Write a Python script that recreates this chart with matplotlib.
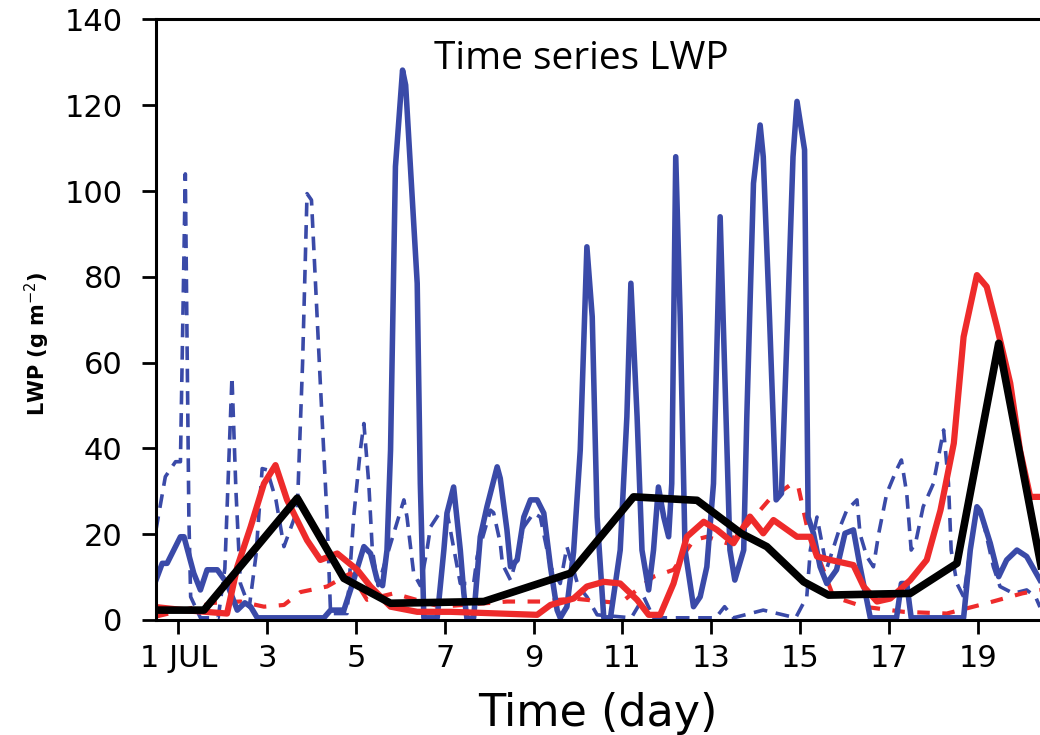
import matplotlib.pyplot as plt

# black solid (coarse)
blk_x = [0.5, 1.58, 3.68, 4.73, 5.78, 7.88, 9.83, 11.25, 12.68, 13.67, 14.25, 15.08, 15.64, 17.48, 18.53, 19.47, 20.6]
blk_y = [2.3, 2.3, 28.4, 9.7, 3.9, 4.3, 10.9, 28.7, 27.9, 20.2, 17.1, 8.9, 5.8, 6.2, 13.2, 64.5, 3]

# red solid
rs_x = [0.5, 1.12, 2.1, 2.33, 2.63, 2.93, 3.19, 3.45, 3.9, 4.2, 4.58, 5.03, 5.33, 5.78, 6.38, 7.13,
        9.08, 9.38, 9.9, 10.2, 10.58, 10.95, 11.33, 11.59, 11.85, 12.15, 12.45, 12.83, 13.13, 13.5,
        13.87, 14.17, 14.4, 14.93, 15.23, 15.38, 15.68, 16.2, 16.43, 16.73, 17.03, 17.48, 17.85,
        18.16, 18.46, 18.68, 18.98, 19.2, 19.43, 19.73, 19.95, 20.18, 20.4]
rs_y = [3, 2.3, 1.5, 12.4, 21.7, 31.8, 36.1, 28, 18.6, 14, 15.5, 11.7, 7.8, 3.1, 1.9, 1.9,
        1.2, 3.5, 5, 7.8, 8.9, 8.5, 4.7, 1.2, 1.2, 8.5, 19.4, 22.9, 21, 17.9,
        24.1, 20.2, 23.3, 19.4, 19.4, 14.8, 14, 12.8, 7.8, 4.3, 5, 9.3, 14,
        25.6, 41.2, 66, 80.4, 77.7, 68.4, 55.2, 39.6, 28.7, 28.7]

# red dashed
rd_x = [0.5, 1.8, 2.4, 2.93, 3.38, 3.75, 4.35, 4.88, 5.25, 5.85, 6.9, 8.41, 9.15, 9.9, 10.95,
        11.7, 12.15, 12.6, 12.9, 13.35, 13.8, 14.3, 14.78, 14.95, 15.15, 15.75, 16.43, 17.33,
        18.3, 19.2, 20.0, 20.4]
rd_y = [0.8, 4, 4.3, 3.1, 3.5, 6.5, 7.8, 10.9, 4.7, 6.2, 3.1, 4.3, 4.3, 5, 3.9,
        10.1, 11.7, 18.6, 19.4, 17.9, 22, 28, 31.5, 31.5, 22, 5.4, 3.1, 1.9,
        1.5, 3.9, 6.2, 7]

# blue dashed
bd_x = [0.5, 0.71, 0.94, 1.05, 1.16, 1.24, 1.28, 1.5, 1.9, 2.05, 2.21, 2.3, 2.4, 2.6, 2.75,
        2.89, 3.0, 3.2, 3.38, 3.68, 3.8, 3.9, 4.0, 4.2, 4.35, 4.43, 4.8, 4.95, 5.1, 5.18,
        5.29, 5.37, 5.5, 5.7, 6.08, 6.15, 6.3, 6.45, 6.6, 6.68, 6.9, 7.05, 7.35, 7.65, 7.73,
        8.03, 8.1, 8.25, 8.3, 8.48, 8.63, 8.78, 9.0, 9.15, 9.38, 9.6, 9.75, 10.0, 10.2, 10.43,
        11.2, 11.48, 11.7, 13.1, 13.3, 13.5, 14.17, 14.9, 15.15, 15.23, 15.38, 15.6, 15.9,
        16.05, 16.28, 16.35, 16.5, 16.65, 16.77, 16.95, 17.17, 17.28, 17.4, 17.5, 17.6, 17.77,
        18.0, 18.23, 18.34, 18.4, 18.53, 18.68, 18.85, 18.98, 19.1, 19.35, 19.5, 19.8, 20.1,
        20.3, 20.4]
bd_y = [21, 33.4, 36.9, 36.9, 104, 24, 5.4, 0.5, 0.5, 12, 56.7, 30, 8.5, 3, 15,
        35.3, 35, 28, 17.1, 25.6, 60, 99.4, 97.9, 55, 24, 1.5, 1.5, 24, 39.6, 45.8,
        31.8, 16.3, 8, 15, 28, 24, 10.9, 8, 16.3, 21.7, 25.2, 25.2, 8.5, 8.5, 14.8,
        25.6, 25, 17.9, 13, 9.3, 14.8, 21.7, 24.9, 24, 12.4, 8.5, 17.1, 8, 5.4, 1.2,
        0.5, 5.4, 0.5, 0.5, 3.1, 0.5, 2.3, 0.5, 5.4, 16.3, 24, 12, 21.7,
        25.6, 28, 20, 14.8, 12.4, 20.2, 29.5, 35, 37.3, 29.5, 16.3, 18, 26.4,
        31.8, 44.3, 31.8, 16.3, 8.5, 5.4, 18, 25.6, 24, 12.4, 7.8, 6.2, 7,
        5.4, 3]

# blue solid
bs_x = [0.5, 0.64, 0.75, 1.05, 1.13, 1.35, 1.5, 1.65, 1.88, 2.1, 2.33, 2.5, 2.63, 2.78, 4.28,
        4.43, 4.73, 4.95, 5.18, 5.33, 5.48, 5.6, 5.7, 5.78, 5.89, 6.05, 6.12, 6.38, 6.45, 6.53,
        6.83, 6.98, 7.05, 7.2, 7.35, 7.43, 7.5, 7.65, 7.8, 7.95, 8.18, 8.25, 8.4, 8.48, 8.63,
        8.78, 8.93, 9.08, 9.23, 9.38, 9.53, 9.6, 9.75, 9.9, 10.05, 10.2, 10.32, 10.43, 10.58,
        10.73, 10.95, 11.1, 11.19, 11.33, 11.44, 11.59, 11.7, 11.81, 11.93, 12.04, 12.11, 12.2,
        12.3, 12.41, 12.6, 12.75, 12.9, 13.05, 13.2, 13.31, 13.42, 13.53, 13.73, 13.8, 13.95,
        14.1, 14.17, 14.31, 14.46, 14.58, 14.72, 14.84, 14.93, 15.1, 15.18, 15.3, 15.45, 15.6,
        15.82, 16.01, 16.2, 16.35, 16.58, 17.17, 17.28, 17.4, 17.5, 18.68, 18.83, 18.98, 19.05,
        19.28, 19.47, 19.65, 19.88, 20.1, 20.4]
bs_y = [9.3, 13.2, 13.2, 19.4, 19.4, 10.9, 7, 11.7, 11.7, 8.5, 2.3, 4, 3.1, 0.5, 0.5,
        2.3, 2.3, 9.3, 17.1, 15.5, 9.3, 8, 16.3, 39.6, 105.7, 128.2, 124.7, 78.5, 31.8, 0.5,
        0.5, 16.3, 24.9, 31, 16.3, 6.2, 0.3, 0.5, 19.4, 26.4, 35.7, 33, 21, 12.4, 14,
        24, 28, 28, 24.9, 12.4, 2.3, 0.5, 3.1, 15.8, 39.6, 87, 70.7, 24, 0.5,
        0.5, 16.3, 47.4, 78.5, 47.4, 16.3, 7, 16.3, 31, 24, 19.4, 31.8, 108,
        70.7, 16.3, 3.1, 5.4, 12.4, 31.8, 94, 55.2, 16.3, 9.3, 16.3, 47.4, 101.8,
        115.4, 108, 70.7, 28, 29.5, 70.7, 108, 120.9, 109.6, 24, 20.2, 12.4, 8.5,
        11.7, 20.2, 21, 12.4, 0.5, 0.5, 8.5, 8.5, 0.5, 0.5, 16.3, 26.4, 25.5,
        17.9, 10.1, 14, 16.3, 14.8, 9.3]

day_ticks = [1, 3, 5, 7, 9, 11, 13, 15, 17, 19]
day_labels = ['1 JUL', '3', '5', '7', '9', '11', '13', '15', '17', '19']

blue = '#3a4aa8'
red = '#ee2b2b'

fig = plt.figure(figsize=(10.4, 7.35), dpi=100)
ax = fig.add_axes([0.15, 0.1565, 0.85, 0.817])

ax.plot(bd_x, bd_y, color=blue, lw=2.6, dashes=(3.8, 2.4))
ax.plot(rd_x, rd_y, color=red, lw=3.0, dashes=(3.0, 3.0))
ax.plot(bs_x, bs_y, color=blue, lw=4.0)
ax.plot(rs_x, rs_y, color=red, lw=4.5)
ax.plot(blk_x, blk_y, color='black', lw=5.5)

ax.set_xlim(0.5, 20.4)
ax.set_ylim(0, 140)
ax.set_xticks(day_ticks)
ax.set_xticklabels(day_labels)
ax.set_yticks(range(0, 141, 20))
ax.tick_params(direction='out', length=10, width=2, labelsize=22)
ax.tick_params(axis='y', pad=14)
ax.tick_params(axis='x', pad=7)
for s in ['left', 'bottom', 'top']:
    ax.spines[s].set_linewidth(2.2)
ax.spines['right'].set_visible(False)

ax.text(0.481, 0.935, 'Time series LWP', transform=ax.transAxes, ha='center',
        va='center', fontsize=28, family='Open Sans')
ax.set_xlabel('Time (day)', fontsize=32, labelpad=14)
ax.set_ylabel(r'LWP (g m$^{-2}$)', fontsize=15, fontweight='bold')
ax.yaxis.set_label_coords(-0.118, 0.46)

fig.savefig('out.png', dpi=100)
